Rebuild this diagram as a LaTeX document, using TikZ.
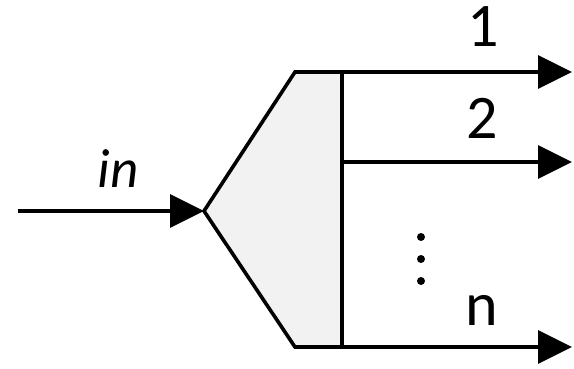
\documentclass[tikz,border=0pt]{standalone}
\usepackage{fontspec}
\setmainfont{Carlito}
\usetikzlibrary{arrows.meta}
\begin{document}
\begin{tikzpicture}[x=1pt,y=-1pt,line width=3.6pt,
  sig/.style={-{Triangle[length=34pt,width=33pt]}},
  lbl/.style={font=\fontsize{62}{62}\selectfont,inner sep=0pt}]
\useasboundingbox (0,0) rectangle (574,368);
% demux block
\coordinate (tip) at (204,211);
\coordinate (tl) at (295,72);
\coordinate (tr) at (342,72);
\coordinate (br) at (342,347);
\coordinate (bl) at (295,347);
\filldraw[fill=black!5,line join=miter] (tip) -- (tl) -- (tr) -- (br) -- (bl) -- cycle;

% input
\coordinate (src) at (18,211);
\draw[sig] (src) -- (tip);
\node[lbl,font=\fontsize{55}{55}\selectfont\itshape] (in) at (118,169) {in};

% outputs
\coordinate (s2) at (342,162);
\coordinate (o1) at (572,72);
\coordinate (o2) at (572,162);
\coordinate (on) at (572,347);
\draw[sig] (tr) -- (o1);
\draw[sig] (s2) -- (o2);
\draw[sig] (br) -- (on);
\node[lbl] (l1) at (483,27) {1};
\node[lbl] (l2) at (482,118) {2};
\node[lbl] (ln) at (482,310) {n};

% vertical dots
\foreach \y in {237,259,281}
  \fill (421,\y) circle (4);
\end{tikzpicture}
\end{document}
